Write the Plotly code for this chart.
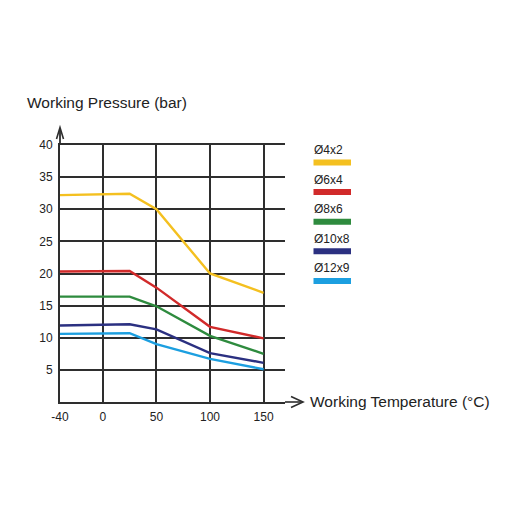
import plotly.graph_objects as go

# ---- data ----
temps = [-40, 25, 50, 100, 150]
series_names = ["Ø4x2", "Ø6x4", "Ø8x6", "Ø10x8", "Ø12x9"]
p_4x2 = [32.2, 32.4, 30.0, 20.0, 17.0]
p_6x4 = [20.3, 20.4, 17.8, 11.7, 9.9]
p_8x6 = [16.4, 16.4, 14.9, 10.3, 7.5]
p_10x8 = [11.9, 12.1, 11.3, 7.6, 6.1]
p_12x9 = [10.6, 10.7, 9.0, 6.7, 5.1]
series_values = [p_4x2, p_6x4, p_8x6, p_10x8, p_12x9]
colors = ["#F4C020", "#D12A2A", "#2E8B3E", "#2B3081", "#1C9FE0"]

x_ticks = [-40, 0, 50, 100, 150]
y_ticks = [5, 10, 15, 20, 25, 30, 35, 40]

FONT = "Liberation Sans, Arial, sans-serif"
GRID = "#2e2e2e"

OFF = 8  # page body margin
W, H = 504, 504
L, R, T, B = 52, 227, 137, 110
PW, PH = W - L - R, H - T - B
X0_REF, Y0_REF = L + OFF, H - B + OFF  # plot origin in window pixels


def px(xpix):
    return (xpix - X0_REF) / PW


def py(ypix):
    return (Y0_REF - ypix) / PH


fig = go.Figure()
for name, vals, col in zip(series_names, series_values, colors):
    fig.add_trace(go.Scatter(x=temps, y=vals, mode="lines", name=name,
                             line=dict(color=col, width=2.4), showlegend=False))

shapes = []
annotations = []
# axis extensions with open arrowheads
shapes.append(dict(type="line", xref="paper", yref="paper", x0=0, x1=0, y0=1, y1=py(128),
                   line=dict(color=GRID, width=1.8)))
shapes.append(dict(type="path", xref="paper", yref="paper",
                   path=f"M{px(56.5)},{py(139)} L{px(60)},{py(127.5)} L{px(63.5)},{py(139)}",
                   line=dict(color=GRID, width=1.6)))
shapes.append(dict(type="line", xref="paper", yref="paper", x0=1, x1=px(302), y0=0, y1=0,
                   line=dict(color=GRID, width=1.6)))
shapes.append(dict(type="path", xref="paper", yref="paper",
                   path=f"M{px(291)},{py(396.5)} L{px(303)},{py(402)} L{px(291)},{py(407.5)}",
                   line=dict(color=GRID, width=1.6)))

# custom legend: label above colour swatch
for i, (name, col) in enumerate(zip(series_names, colors)):
    sy = 162.5 + i * 29.6
    shapes.append(dict(type="rect", xref="paper", yref="paper",
                       x0=px(313.5), x1=px(351), y0=py(sy - 3), y1=py(sy + 3),
                       fillcolor=col, line=dict(width=0)))
    annotations.append(dict(xref="paper", yref="paper", x=px(312), y=py(sy - 12.5),
                            text=name, showarrow=False, xanchor="left", yanchor="middle",
                            font=dict(family=FONT, size=12, color="#222222")))

annotations.append(dict(xref="paper", yref="paper", x=px(25), y=py(103),
                        text="Working Pressure (bar)", showarrow=False,
                        xanchor="left", yanchor="middle",
                        font=dict(family=FONT, size=15.5, color="#222222")))
annotations.append(dict(xref="paper", yref="paper", x=px(308), y=py(401),
                        text="Working Temperature (°C)", showarrow=False,
                        xanchor="left", yanchor="middle",
                        font=dict(family=FONT, size=15.5, color="#222222")))

fig.update_layout(
    width=W, height=H,
    margin=dict(l=L, r=R, t=T, b=B),
    paper_bgcolor="white", plot_bgcolor="white",
    shapes=shapes, annotations=annotations,
    xaxis=dict(range=[-40, 170], tickvals=x_ticks, ticktext=[str(v) for v in x_ticks],
               showgrid=True, gridcolor=GRID, gridwidth=1.8, zeroline=False,
               showline=True, linecolor=GRID, linewidth=1.8, mirror=True, ticks="",
               ticklabelstandoff=3,
               tickfont=dict(family=FONT, size=12, color="#222222")),
    yaxis=dict(range=[0, 40], tickvals=y_ticks, showgrid=True, gridcolor=GRID, gridwidth=1.8,
               zeroline=False, showline=True, linecolor=GRID, linewidth=1.8, ticks="",
               ticklabelstandoff=3,
               tickfont=dict(family=FONT, size=12, color="#222222")),
)

fig.write_html("out.html")
